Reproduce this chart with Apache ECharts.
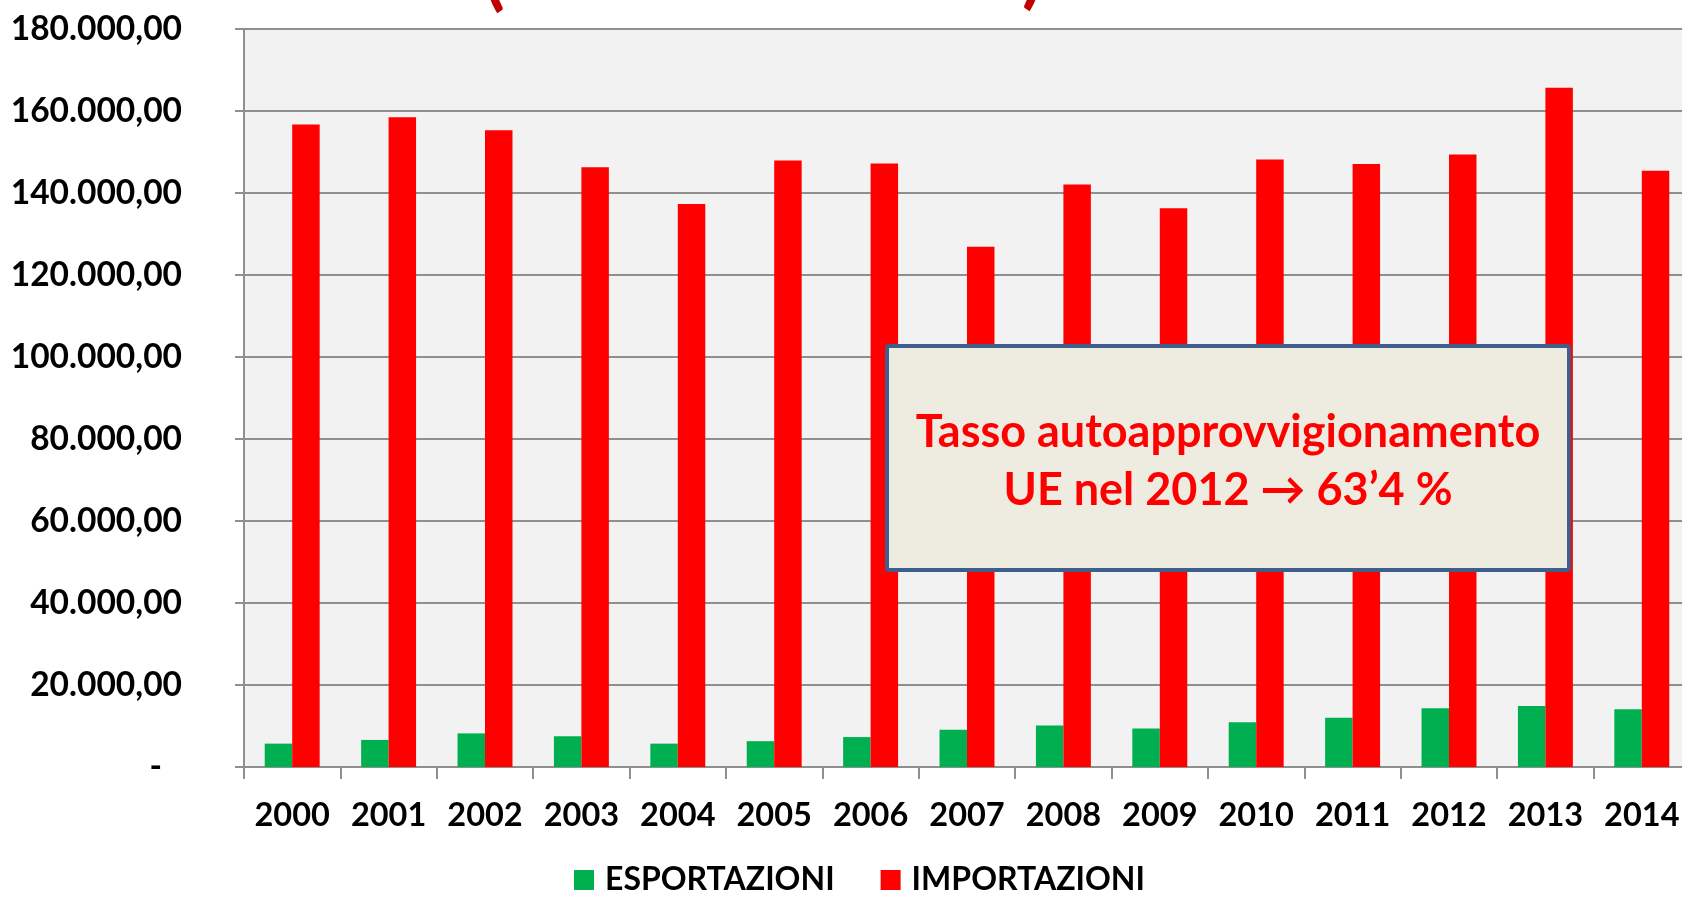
<!DOCTYPE html>
<html>
<head>
<meta charset="utf-8">
<script src="https://cdn.jsdelivr.net/npm/echarts@6/dist/echarts.min.js"></script>
<style>
  html, body { margin: 0; padding: 0; background: #fff; }
  #chart { width: 1682px; height: 897px; }
</style>
</head>
<body>
<div id="chart"></div>
<script>
const years = ["2000", "2001", "2002", "2003", "2004", "2005", "2006", "2007",
  "2008", "2009", "2010", "2011", "2012", "2013", "2014"];
const esportazioni = [5700, 6600, 8200, 7500, 5700, 6300, 7300, 9100,
  10100, 9400, 10900, 12000, 14300, 14900, 14100];
const importazioni = [156700, 158500, 155300, 146300, 137300, 147900, 147200, 126900,
  142100, 136300, 148200, 147100, 149400, 165700, 145400];
const seriesNames = ["ESPORTAZIONI", "IMPORTAZIONI"];
const noteLines = ["Tasso autoapprovvigionamento", "UE nel 2012 \u2192 63\u20194 %"];

const FONT = "Lato, 'DejaVu Sans', sans-serif";
const gridColor = "#8f8f8f";

// formato italiano: 180.000,00
const fmtNum = v => {
  if (v === 0) return "{d|-}";
  return String(Math.round(v)).replace(/\B(?=(\d{3})+(?!\d))/g, ".") + ",00";
};

const myChart = echarts.init(document.getElementById("chart"));
const option = {
  animation: false,
  backgroundColor: "#fff",
  textStyle: { fontFamily: FONT },
  grid: {
    left: 244,
    top: 29,
    width: 1446,
    height: 738,
    show: true,
    backgroundColor: "#f2f2f2",
    borderWidth: 0,
    outerBoundsMode: "none"
  },
  legend: {
    data: seriesNames,
    left: 574,
    top: 864,
    icon: "rect",
    itemWidth: 20,
    itemHeight: 20,
    itemGap: 46,
    padding: 0,
    textStyle: { fontFamily: FONT, fontSize: 32, fontWeight: "bold", color: "#000", padding: [0, 0, 0, 6] }
  },
  xAxis: {
    type: "category",
    data: years,
    axisLine: { lineStyle: { color: gridColor, width: 2 } },
    axisTick: { show: true, interval: 0, length: 12, lineStyle: { color: gridColor, width: 2 } },
    axisLabel: { interval: 0, hideOverlap: false, fontFamily: FONT, fontSize: 32.5, fontWeight: "bold", color: "#000", margin: 32 }
  },
  yAxis: {
    type: "value",
    min: 0,
    max: 180000,
    interval: 20000,
    axisLine: { show: true, lineStyle: { color: gridColor, width: 2 } },
    axisTick: { show: true, length: 9, lineStyle: { color: gridColor, width: 2 } },
    splitLine: { lineStyle: { color: gridColor, width: 2 } },
    axisLabel: {
      fontFamily: FONT, fontSize: 33.5, fontWeight: "bold", color: "#000", margin: 62,
      formatter: fmtNum,
      rich: { d: { fontFamily: FONT, fontSize: 33.5, fontWeight: "bold", color: "#000", padding: [0, 20, 0, 0] } }
    }
  },
  series: [
    {
      name: seriesNames[0],
      type: "bar",
      data: esportazioni,
      barGap: "0%",
      barCategoryGap: "43%",
      itemStyle: { color: "#00b050" }
    },
    {
      name: seriesNames[1],
      type: "bar",
      data: importazioni,
      barGap: "0%",
      barCategoryGap: "43%",
      itemStyle: { color: "#ff0000" }
    }
  ],
  graphic: [
    // resti del titolo tagliato in alto
    {
      type: "text", left: 484, top: -62, z: 10,
      style: { text: "(", font: "bold 76px " + FONT, fill: "#c00000",
        shadowColor: "rgba(0,0,0,0.35)", shadowBlur: 4, shadowOffsetX: 2, shadowOffsetY: 3 }
    },
    {
      type: "text", left: 1022, top: -64, z: 10,
      style: { text: ")", font: "bold 76px " + FONT, fill: "#c00000",
        shadowColor: "rgba(0,0,0,0.35)", shadowBlur: 4, shadowOffsetX: 2, shadowOffsetY: 3 }
    },
    // riquadro nota
    {
      type: "rect", z: 20,
      shape: { x: 887, y: 346, width: 682, height: 224, r: 2 },
      style: { fill: "#eeece1", stroke: "#3f5f8a", lineWidth: 4 }
    },
    {
      type: "text", z: 21,
      x: 1228, y: 432,
      style: { text: noteLines[0], font: "bold 45px " + FONT, fill: "#ff0000",
        textAlign: "center", textVerticalAlign: "middle" }
    },
    {
      type: "text", z: 21,
      x: 1228, y: 490,
      style: { text: noteLines[1], font: "bold 45px " + FONT, fill: "#ff0000",
        textAlign: "center", textVerticalAlign: "middle" }
    }
  ]
};
myChart.setOption(option);
</script>
</body>
</html>
